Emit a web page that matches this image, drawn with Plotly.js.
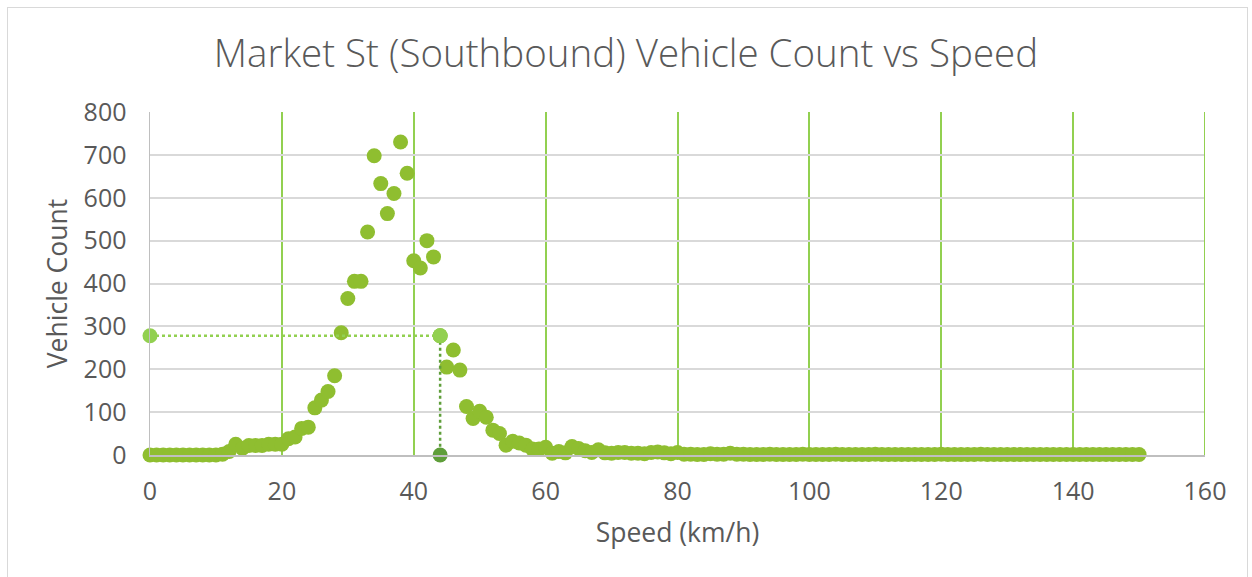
<!DOCTYPE html>
<html>
<head>
<meta charset="utf-8">
<script src="https://cdn.plot.ly/plotly-3.0.1.min.js"></script>
<style>
html,body{margin:0;padding:0;background:#fff;}
#chart{width:1252px;height:577px;position:relative;}
#frame{position:absolute;left:7px;top:7px;width:1241px;height:575px;border:1.5px solid #d9d9d9;pointer-events:none;box-sizing:border-box;}
</style>
</head>
<body>
<div id="chart"></div>
<div id="frame"></div>
<script>
const speeds = [];
for (let s = 0; s <= 150; s++) speeds.push(s);
const counts = [
  0,0,0,0,0,0,0,0,0,0,          // 0-9
  0,2,8,25,15,22,22,22,25,25,   // 10-19
  25,38,42,62,65,110,128,148,185,285, // 20-29
  365,405,405,520,698,633,563,610,730,657, // 30-39
  453,436,500,462,278,205,245,198,113,85, // 40-49
  102,88,58,50,23,32,28,23,14,14, // 50-59
  18,4,8,5,20,15,10,6,12,5, // 60-69
  4,6,6,4,4,3,6,7,5,3, // 70-79
  6,2,2,1,1,3,2,2,4,2, // 80-89
  2,1,1,1,2,1,1,1,1,2, // 90-99
  1,1,1,1,2,1,1,1,1,1, // 100-109
  2,1,1,1,1,1,1,1,1,1, // 110-119
  2,1,1,1,1,1,2,1,1,1, // 120-129
  1,1,1,1,1,1,1,1,1,1, // 130-139
  1,1,1,1,1,1,1,1,1,1, // 140-149
  1 // 150
];
const markSpeed = 44;
const markCount = 278;
const hLineX = [0, markSpeed];
const hLineY = [markCount, markCount];
const vLineX = [markSpeed, markSpeed];
const vLineY = [markCount, 0];

const textColor = '#595959';
const font = 'Open Sans, Noto Sans, sans-serif';

const data = [
  {x: speeds, y: counts, type: 'scatter', mode: 'markers', cliponaxis: false,
   marker: {color: '#8fbe30', size: 15}, showlegend: false, hoverinfo: 'x+y'},
  {x: hLineX, y: hLineY, type: 'scatter', mode: 'lines+markers', cliponaxis: false,
   line: {color: '#92d050', width: 2.5, dash: 'dot'},
   marker: {color: '#92d050', size: 15}, showlegend: false},
  {x: vLineX, y: vLineY, type: 'scatter', mode: 'lines+markers', cliponaxis: false,
   line: {color: '#5f9e3a', width: 2.5, dash: 'dot'},
   marker: {color: ['#92d050', '#5f9e3a'], size: 15}, showlegend: false}
];

const layout = {
  width: 1252, height: 577,
  margin: {l: 150, r: 47, t: 112, b: 122},
  paper_bgcolor: '#ffffff', plot_bgcolor: '#ffffff',
  font: {family: font, color: textColor},
  title: {text: 'Market St (Southbound) Vehicle Count vs Speed',
          font: {family: font, size: 38.5, color: textColor, weight: 300},
          x: 0.5, xanchor: 'center', y: 0.907, yanchor: 'middle'},
  xaxis: {range: [0, 160], dtick: 20, tick0: 0, showgrid: true, gridcolor: '#92d050', gridwidth: 2,
          zeroline: false, showline: true, linecolor: '#bfbfbf', linewidth: 1.5,
          ticks: '', ticklabelstandoff: 13,
          tickfont: {size: 25, color: textColor, family: font},
          title: {text: 'Speed (km/h)', font: {size: 26.5, color: textColor, family: font}, standoff: 18}},
  yaxis: {range: [0, 800], dtick: 100, tick0: 0, showgrid: true, gridcolor: '#d9d9d9', gridwidth: 2,
          zeroline: false, showline: true, linecolor: '#bfbfbf', linewidth: 1.5,
          ticks: '', ticklabelstandoff: 17,
          tickfont: {size: 25, color: textColor, family: font},
          title: {text: 'Vehicle Count', font: {size: 26.5, color: textColor, family: font}, standoff: 8}},
  shapes: [
    {type: 'line', xref: 'x', yref: 'paper', x0: 160, x1: 160, y0: 0, y1: 1,
     line: {color: '#92d050', width: 2}}
  ]
};

Plotly.newPlot('chart', data, layout, {displayModeBar: false, staticPlot: true});
</script>
</body>
</html>
